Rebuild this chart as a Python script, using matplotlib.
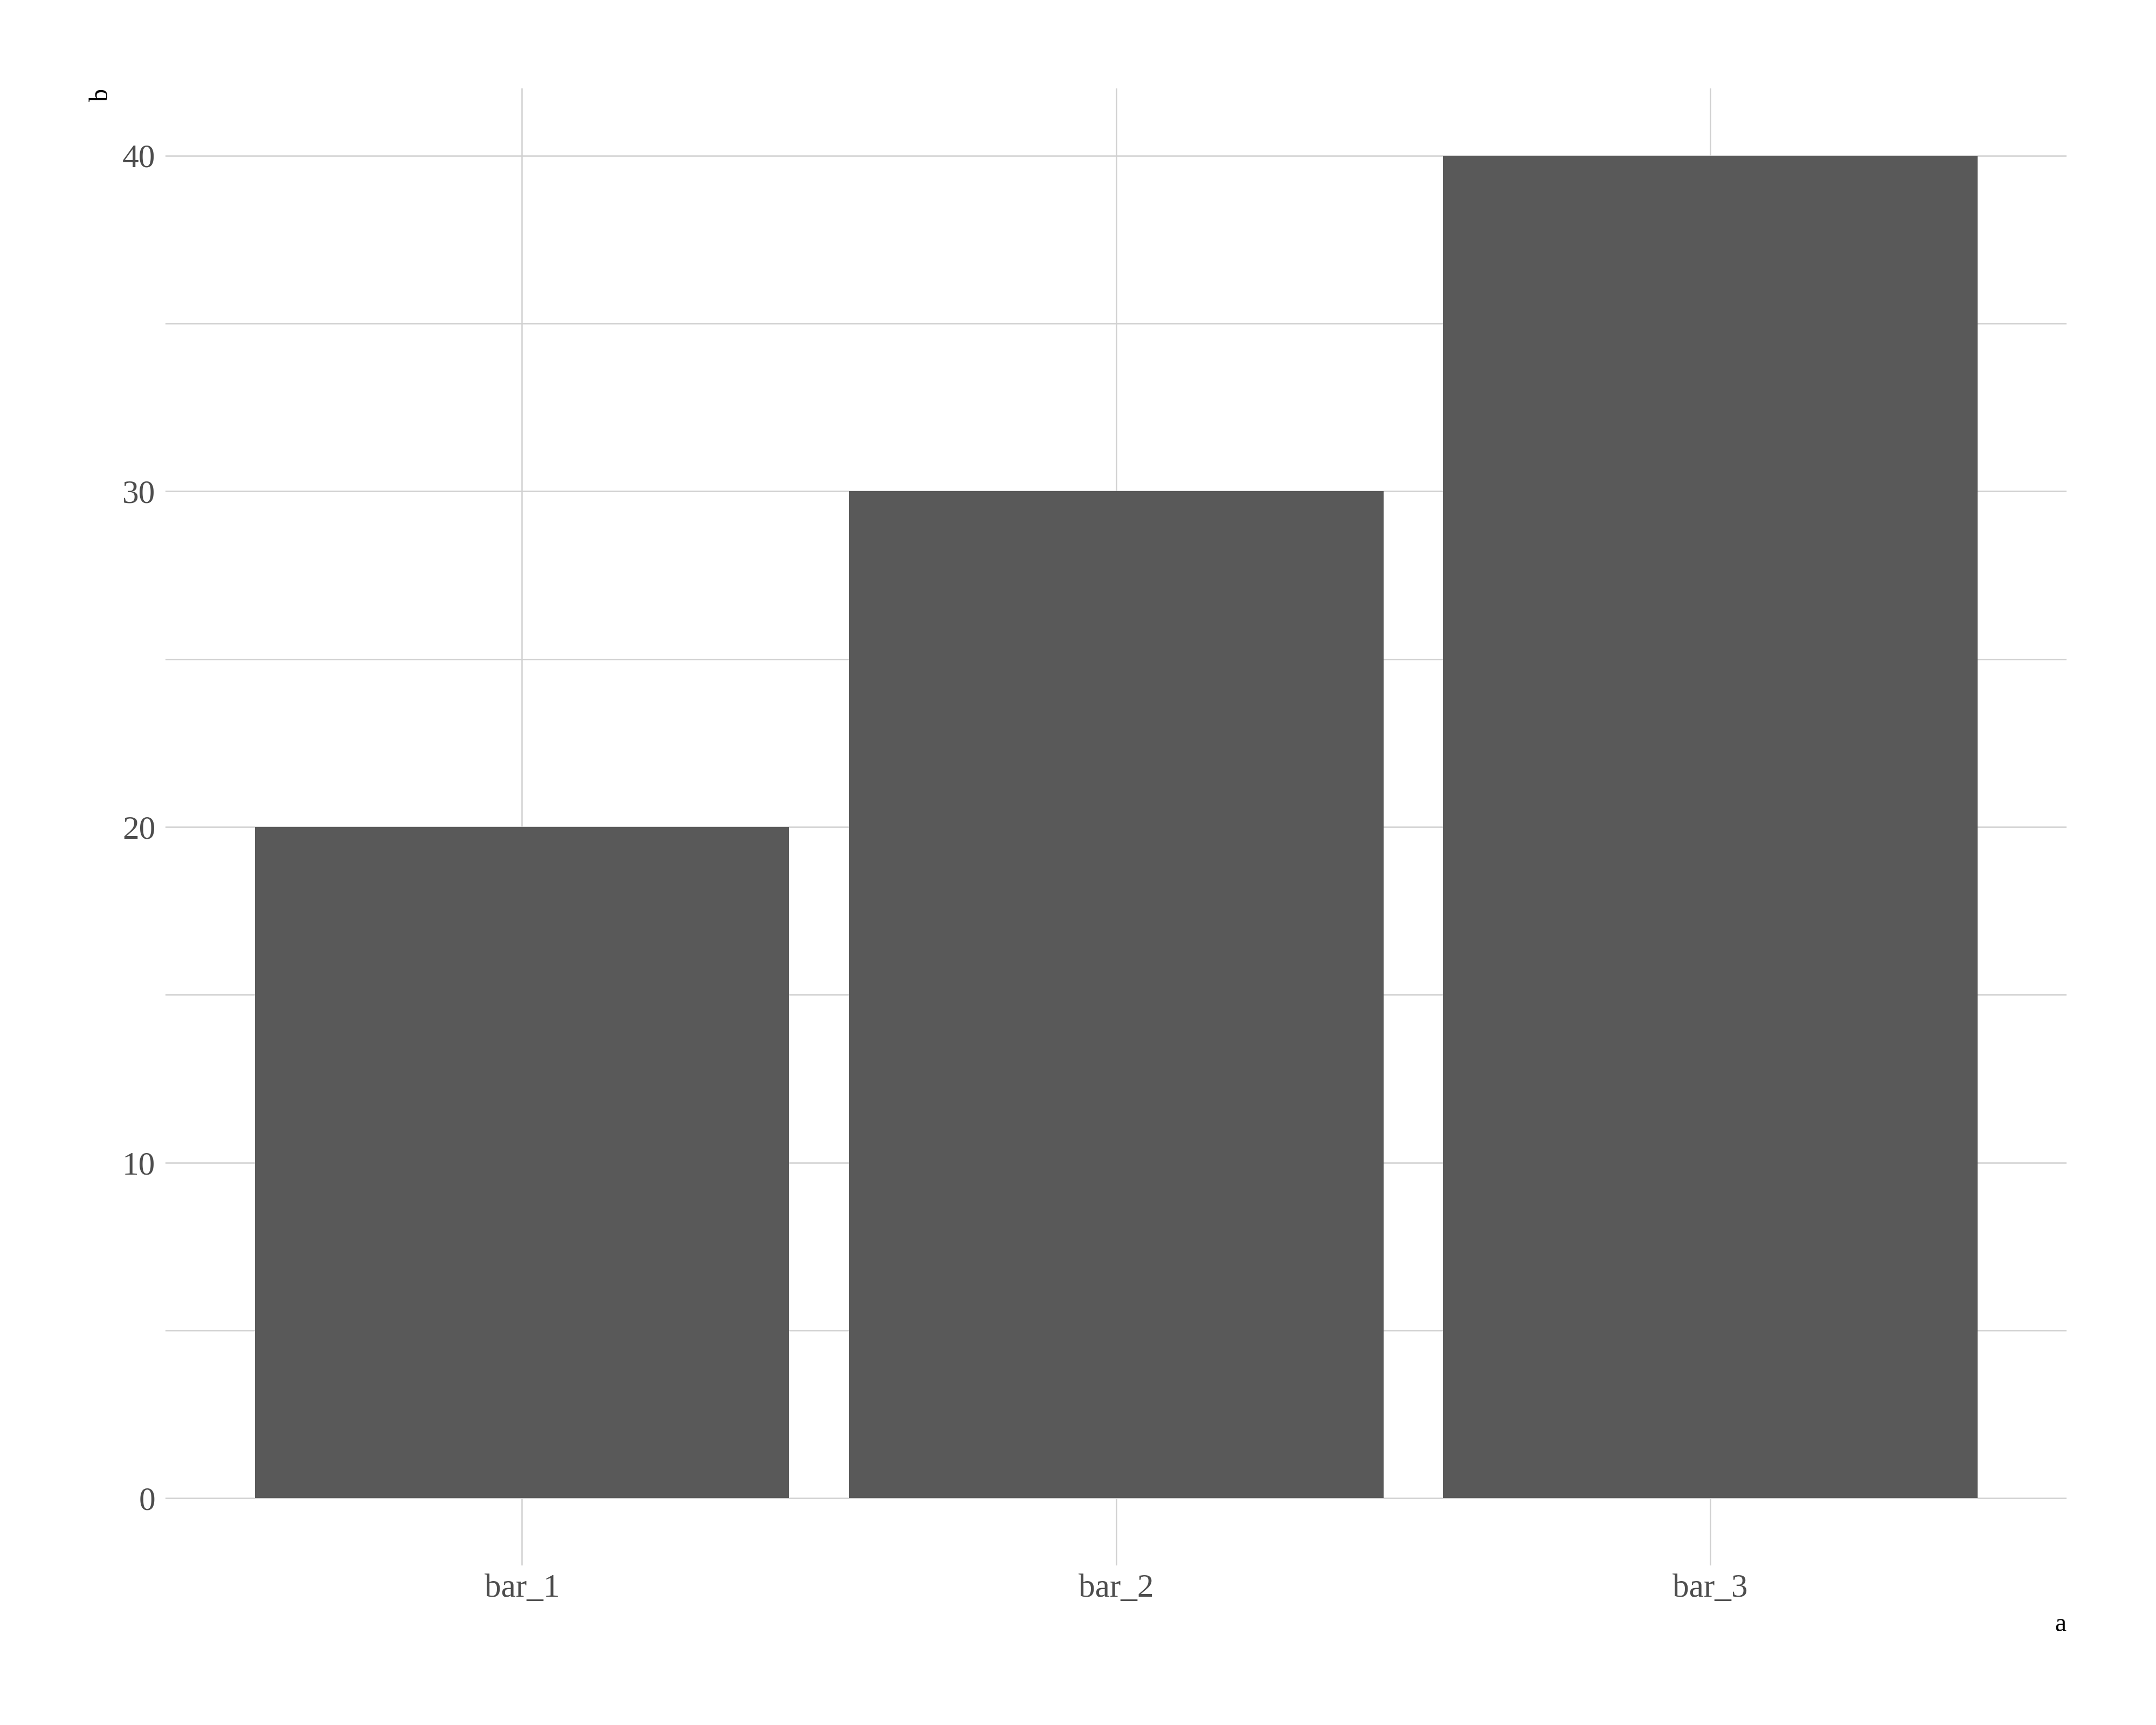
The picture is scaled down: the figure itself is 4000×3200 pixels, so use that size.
import matplotlib.pyplot as plt
from matplotlib.ticker import MultipleLocator

# data
categories = ["bar_1", "bar_2", "bar_3"]
values = [20, 30, 40]

plt.rcParams["font.family"] = ["Liberation Serif", "DejaVu Serif"]

fig = plt.figure(figsize=(4000 / 300, 3200 / 300), dpi=300)
ax = fig.add_axes([0.0768, 0.0925, 0.9585 - 0.0768, 0.9487 - 0.0925])

x = list(range(1, len(categories) + 1))
ax.bar(x, values, width=0.9, color="#595959", zorder=2)

ax.set_xlim(0.4, 3.6)
ax.set_ylim(-2, 42)
ax.set_xticks(x)
ax.set_xticklabels(categories)
ax.yaxis.set_major_locator(MultipleLocator(10))
ax.yaxis.set_minor_locator(MultipleLocator(5))

# grid like a minimal theme
grid_col = "#D0D0D0"
ax.grid(True, which="major", color=grid_col, linewidth=0.6, zorder=0)
ax.grid(True, which="minor", axis="y", color=grid_col, linewidth=0.6, zorder=0)
for s in ax.spines.values():
    s.set_visible(False)
ax.tick_params(which="both", length=0)
ax.tick_params(axis="y", labelsize=14.7, labelcolor="#4D4D4D", pad=4.5)
ax.tick_params(axis="x", labelsize=14.7, labelcolor="#4D4D4D", pad=3.7)

ax.set_xlabel("a", loc="right", fontsize=11.5, color="black", labelpad=4)
ax.set_ylabel("b", loc="top", fontsize=11.5, color="black", labelpad=4)

fig.savefig("out.png", dpi=300, facecolor="white")
